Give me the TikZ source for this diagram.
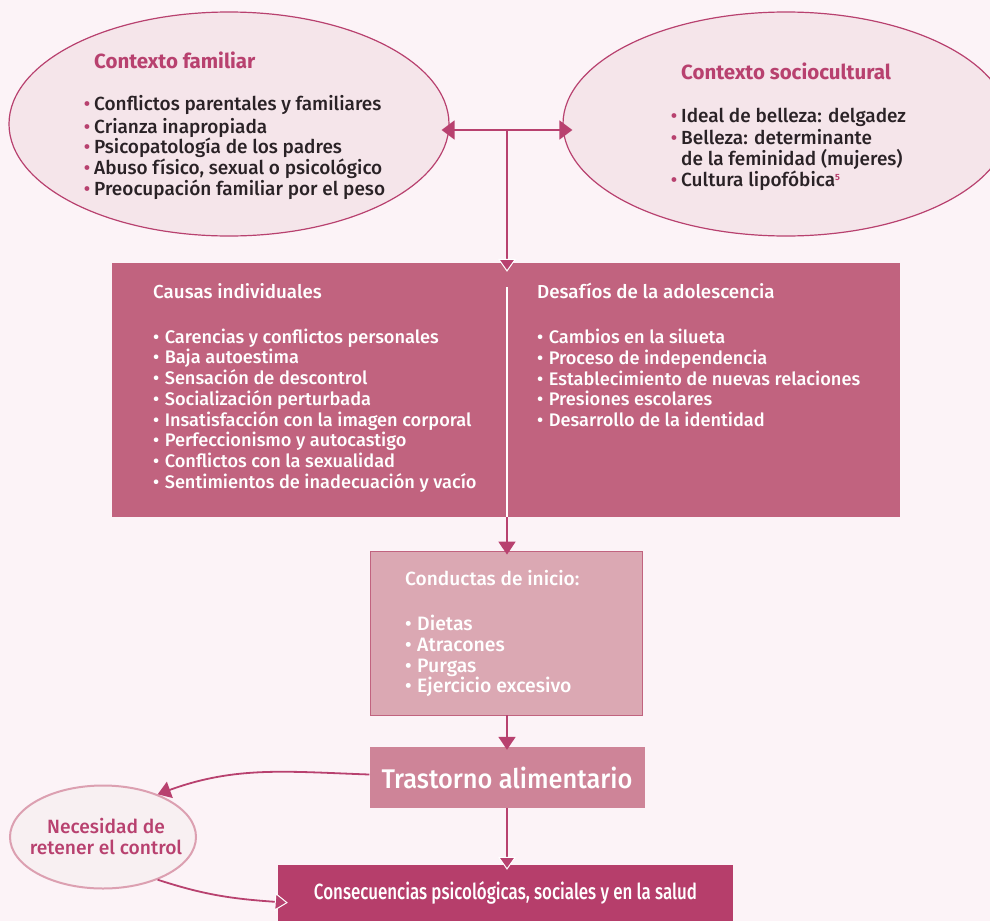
\documentclass[tikz,border=0pt]{standalone}
\usepackage{fontspec}
\setmainfont{Fira Sans}[UprightFont=* Medium, BoldFont=* Bold]
\newfontfamily\condfont[FakeStretch=0.77, UprightFont=* Medium]{Fira Sans}
\newfontfamily\trastfont[FakeStretch=0.94, UprightFont=* Medium]{Fira Sans}
\usetikzlibrary{arrows.meta,shapes.geometric,positioning}

\definecolor{fondo}{HTML}{FCF3F7}
\definecolor{acento}{HTML}{B8416F}
\definecolor{elipsefondo}{HTML}{F5E5EA}
\definecolor{causasfondo}{HTML}{C1637F}
\definecolor{conductasfondo}{HTML}{DBA8B3}
\definecolor{trastornofondo}{HTML}{CE8498}
\definecolor{consecfondo}{HTML}{B63E6B}
\definecolor{texto}{HTML}{2A2226}
\definecolor{necborde}{HTML}{DCA0B1}
\definecolor{necfondo}{HTML}{F8F0F2}

\newcommand{\ebul}{\makebox[0pt][r]{\textcolor{acento}{•}\hspace{4pt}}}
\newcommand{\bbul}{•\hspace{5.5pt}}

\begin{document}
\begin{tikzpicture}[
        x=1pt, y=-1pt, % один пункт на пиксель
        elipse/.style={ellipse, draw=acento, fill=elipsefondo, line width=1.2pt, inner sep=0pt},
        caja/.style={rectangle, inner sep=0pt},
        titulo/.style={anchor=north west, inner sep=0pt, font=\fontsize{20.5}{21}\selectfont\bfseries, text=acento},
        lista/.style={anchor=north west, align=left, inner sep=0pt, font=\fontsize{19}{20.8}\selectfont},
        flecha/.style={draw=acento, line width=1.8pt, -{Triangle[width=17pt,length=13pt]}},
        flechab/.style={draw=acento, line width=1.8pt,
            -{Triangle[width=18pt,length=13pt,fill=acento,color=white,line width=1pt]}},
    ]
    \fill[fondo] (0,0) rectangle (990,921);
    \useasboundingbox (0,0) rectangle (990,921);

    % контексты
    \node[elipse, minimum width=440pt, minimum height=224pt] (fam) at (229,124) {};
    \begin{scope}
        \clip (0,0) rectangle (990,921);
        \node[elipse, minimum width=446pt, minimum height=224pt] (soc) at (786,124) {};
    \end{scope}
    \node[titulo] (famtit) at (94,52) {\strut Contexto familiar};
    \node[lista, text=texto] (famlist) at (94,95.3) {\strut\ebul Conflictos parentales y familiares\\
        \ebul Crianza inapropiada\\
        \ebul Psicopatología de los padres\\
        \ebul Abuso físico, sexual o psicológico\\
        \ebul Preocupación familiar por el peso};
    \node[titulo] (soctit) at (681,63) {\strut Contexto sociocultural};
    \node[lista, text=texto] (soclist) at (681,107.3) {\strut\ebul Ideal de belleza: delgadez\\
        \ebul Belleza: determinante\\
        de la feminidad (mujeres)\\
        \ebul Cultura lipofóbica\raisebox{6pt}{\textcolor{acento}{\fontsize{9}{9}\selectfont\bfseries 5}}};

    % причины
    \node[caja, fill=causasfondo, minimum width=788pt, minimum height=254pt] (causas) at (506,390) {};
    \coordinate (eje) at (507,130);
    \coordinate (div) at (507,287);
    \draw[white, line width=1.6pt] (div) -- (causas.south -| div);
    \node[lista, text=white, font=\fontsize{18.2}{20.7}\selectfont] (indiv) at (153,283.3) {\strut{\fontsize{18.8}{20.7}\selectfont Causas individuales}\\[23pt]
        \bbul Carencias y conflictos personales\\
        \bbul Baja autoestima\\
        \bbul Sensación de descontrol\\
        \bbul Socialización perturbada\\
        \bbul Insatisfacción con la imagen corporal\\
        \bbul Perfeccionismo y autocastigo\\
        \bbul Conflictos con la sexualidad\\
        \bbul Sentimientos de inadecuación y vacío};
    \node[lista, text=white, font=\fontsize{18.2}{20.7}\selectfont] (adol) at (537,283.3) {\strut{\fontsize{18.8}{20.7}\selectfont Desafíos de la adolescencia}\\[23pt]
        \bbul Cambios en la silueta\\
        \bbul Proceso de independencia\\
        \bbul Establecimiento de nuevas relaciones\\
        \bbul Presiones escolares\\
        \bbul Desarrollo de la identidad};

    % поведение
    \node[caja, fill=conductasfondo, draw=causasfondo, line width=0.8pt,
        minimum width=272pt, minimum height=164pt] (cond) at (506,633) {};
    \node[lista, text=white, font=\fontsize{19.4}{20.8}\selectfont] (condlist) at (405,570.3) {\strut{\fontsize{19.1}{20.8}\selectfont Conductas de inicio:}\\[22pt]
        \bbul Dietas\\
        \bbul Atracones\\
        \bbul Purgas\\
        \bbul Ejercicio excesivo};

    \node[caja, fill=trastornofondo, minimum width=275pt, minimum height=61pt,
        text=white, font=\trastfont\fontsize{27}{30}\selectfont] (trast) at (507,777.5) {Trastorno alimentario};
    \node[caja, fill=consecfondo, minimum width=455pt, minimum height=56pt,
        text=white, font=\condfont\fontsize{22}{26}\selectfont] (cons) at (505.5,893) {Consecuencias psicológicas, sociales y en la salud};
    \node[ellipse, draw=necborde, fill=necfondo, line width=2pt, inner sep=0pt,
        minimum width=186pt, minimum height=103pt] (nec) at (103,837) {};
    \node[align=center, text=acento, inner sep=0pt, font=\fontsize{19.2}{21}\selectfont]
        (nectexto) at (106,836) {Necesidad de\\retener el control};

    % стрелки
    \draw[flecha, {Triangle[width=19pt,length=13pt]}-{Triangle[width=19pt,length=13pt]},
        shorten <=-8pt, shorten >=-10pt] (fam.east |- eje) -- (soc.west |- eje);
    \draw[flechab, shorten >=-9pt] (eje) -- (causas.north -| eje);
    \draw[flecha, shorten >=-4pt] (causas.south -| eje) -- (cond.north -| eje);
    \draw[flecha, shorten >=-3pt] (cond.south -| eje) -- (trast.north -| eje);
    \draw[flechab, shorten >=-5pt] (trast.south -| eje) -- (cons.north -| eje);
    \draw[flecha] ([yshift=3pt]trast.west) to[out=178, in=20] (nec.38);
    \draw[flechab, shorten >=-10pt] (nec.-38) to[out=-18, in=176] ([yshift=-9pt]cons.west);
\end{tikzpicture}
\end{document}
